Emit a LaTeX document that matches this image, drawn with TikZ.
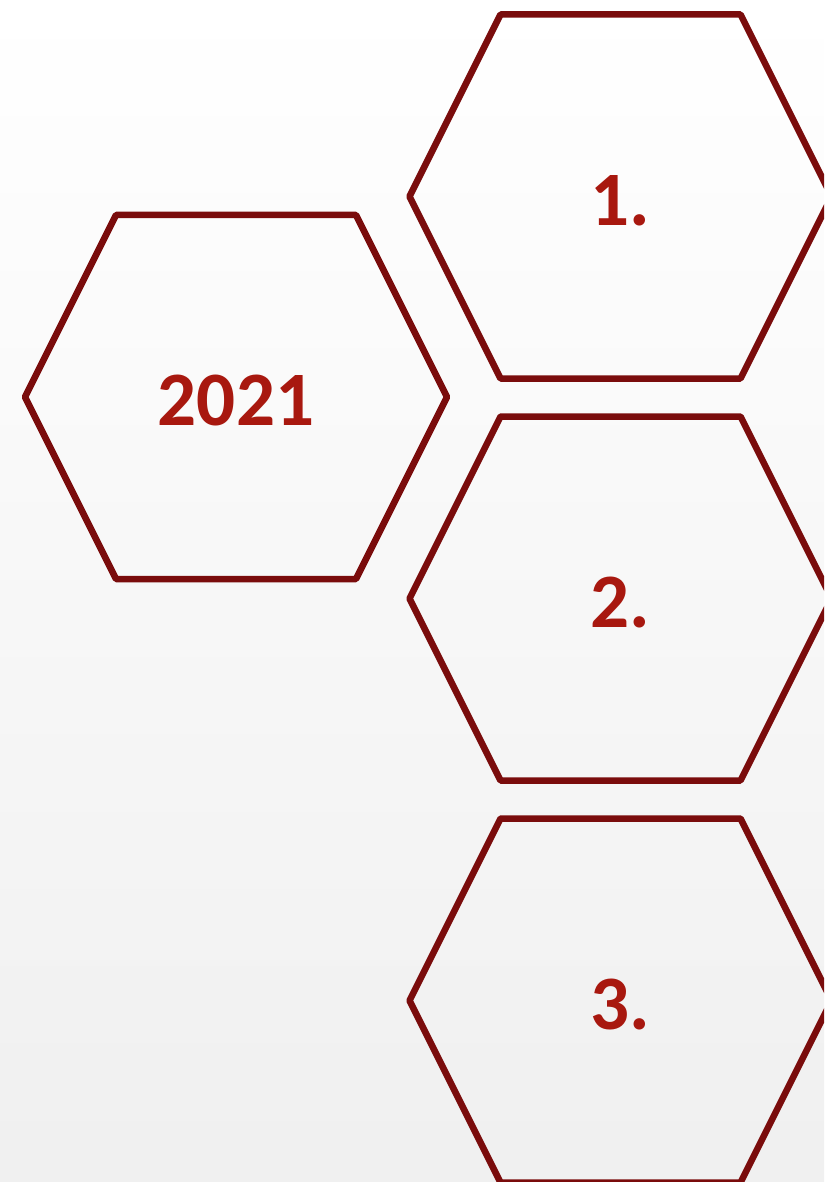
\documentclass[tikz,border=0pt]{standalone}
\usepackage{fontspec}
\setmainfont{Carlito}
\usepackage{xcolor}
\definecolor{HexRed}{HTML}{7A0C0C}
\definecolor{NumRed}{HTML}{A8180F}
\newcommand{\hexat}[1]{%
  \draw[hexline] ([shift={(-120,-186)}]#1.center) -- ++(240,0) -- ++(91,182)
    -- ++(-91,182) -- ++(-240,0) -- ++(-91,-182) -- cycle;}

\begin{document}
\begin{tikzpicture}[x=1pt, y=-1pt,
    hexline/.style={draw=HexRed, line width=6.5pt, line join=round},
    numtxt/.style={text=NumRed, font=\fontsize{77}{80}\selectfont\bfseries, inner sep=0pt}
  ]
    \useasboundingbox (0,0) rectangle (824,1182);
    \fill[top color=white, bottom color=gray!12] (0,0) rectangle (824,1182);
    \clip (0,0) rectangle (824,1182);

    \node[numtxt] (year) at (236,401) {2021};
    \node[numtxt] (one) at (620.5,200.5) {1.};
    \node[numtxt] (two) at (620.5,602.5) {2.};
    \node[numtxt] (three) at (620.5,1004.5) {3.};

    \hexat{year}
    \hexat{one}
    \hexat{two}
    \hexat{three}
  \end{tikzpicture}
\end{document}
